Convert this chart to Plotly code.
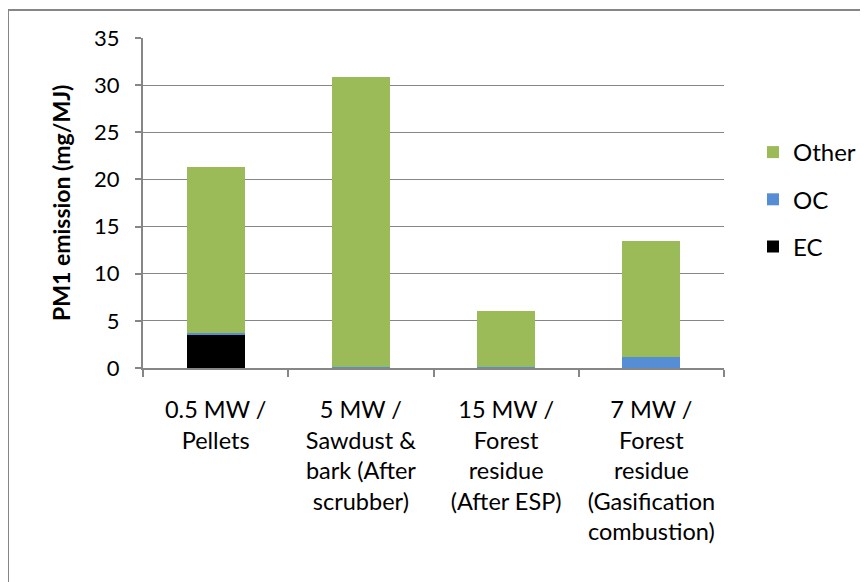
import plotly.graph_objects as go

categories = [
    "0.5 MW /<br>Pellets",
    "5 MW /<br>Sawdust &amp;<br>bark (After<br>scrubber)",
    "15 MW /<br>Forest<br>residue<br>(After ESP)",
    "7 MW /<br>Forest<br>residue<br>(Gasification<br>combustion)",
]
ec_values = [3.5, 0.0, 0.0, 0.0]
oc_values = [0.2, 0.1, 0.15, 1.17]
other_values = [17.6, 30.76, 5.87, 12.29]
y_ticks = [0, 5, 10, 15, 20, 25, 30, 35]

FONT = "Lato"
GRAY = "#868686"

fig = go.Figure()
fig.add_trace(go.Bar(x=categories, y=ec_values, name="EC", marker_color="#000000",
                     legendgroup="ec", legendrank=3, marker_line_width=0))
fig.add_trace(go.Bar(x=categories, y=oc_values, name="OC", marker_color="#558ED5",
                     legendgroup="oc", legendrank=2, marker_line_width=0))
fig.add_trace(go.Bar(x=categories, y=other_values, name="Other", marker_color="#9BBB59",
                     legendgroup="other", legendrank=1, marker_line_width=0))

OFF = 8  # browser body margin
W, H = 868, 582
# plot area in page pixels
PL, PR, PT, PB = 143, 724, 38, 368
L = PL - OFF
T = PT - OFF
pw, ph = PR - PL, PB - PT
R = W - L - pw
B = H - T - ph

def px_x(p):
    return (p - PL) / pw

def px_y(p):
    return 1 - (p - PT) / ph

fig.update_layout(
    width=W, height=H,
    barmode="stack",
    bargap=0.6,
    margin=dict(l=L, r=R, t=T, b=B, autoexpand=False),
    paper_bgcolor="white",
    plot_bgcolor="white",
    font=dict(family=FONT, size=22, color="#000000"),
    showlegend=True,
    legend=dict(
        x=px_x(753), y=px_y(130), xanchor="left", yanchor="top",
        traceorder="grouped", tracegroupgap=13,
        font=dict(family=FONT, size=24, color="#000000"),
        bgcolor="rgba(0,0,0,0)",
    ),
    xaxis=dict(
        showline=True, linecolor=GRAY, linewidth=2,
        ticks="outside", ticklen=7, tickcolor=GRAY, tickwidth=2,
        tickson="boundaries",
        showgrid=False,
        tickfont=dict(family=FONT, size=23.5, color="#000000"),
        ticklabelstandoff=20,
    ),
    yaxis=dict(
        range=[0, 35], tickvals=y_ticks,
        showline=True, linecolor=GRAY, linewidth=2,
        ticks="outside", ticklen=6, tickcolor=GRAY, tickwidth=2,
        showgrid=True, gridcolor=GRAY, gridwidth=1,
        zeroline=False,
        tickfont=dict(family=FONT, size=22, color="#000000"),
        ticklabelstandoff=11,
    ),
    shapes=[
        dict(type="rect", xref="paper", yref="paper",
             x0=px_x(8), x1=px_x(1000), y0=px_y(900), y1=px_y(10),
             line=dict(color=GRAY, width=2), fillcolor="rgba(0,0,0,0)", layer="below"),
    ],
    annotations=[
        dict(text="<b>PM1 emission (mg/MJ)</b>", textangle=-90,
             xref="paper", yref="paper", x=px_x(61), y=0.5,
             xanchor="center", yanchor="middle", showarrow=False,
             font=dict(family=FONT, size=23, color="#000000")),
    ],
)

fig.write_html("out.html")
